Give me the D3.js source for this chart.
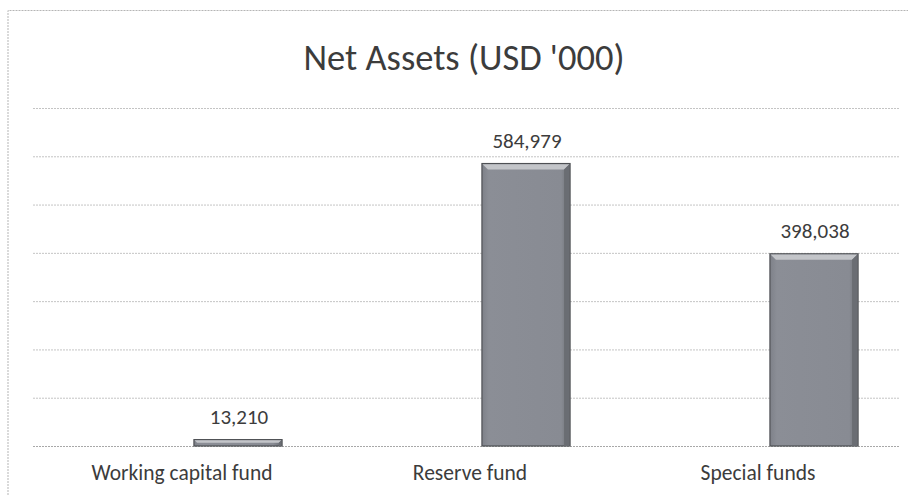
<!DOCTYPE html>
<html>
<head>
<meta charset="utf-8">
<script src="https://cdn.jsdelivr.net/npm/d3@7"></script>
<style>
  html, body { margin: 0; padding: 0; background: #fff; }
  svg { display: block; }
  text { font-family: Carlito, Calibri, Lato, "Open Sans", sans-serif; fill: #3c3c3c; }
</style>
</head>
<body>
<svg id="chart" width="908" height="495"></svg>
<script>
// Net assets by fund, in thousands of US dollars
const categories = ["Working capital fund", "Reserve fund", "Special funds"];
const values = [13210, 584979, 398038];
const valueLabels = ["13,210", "584,979", "398,038"];
const gridTicks = [0, 100000, 200000, 300000, 400000, 500000, 600000, 700000];
const title = "Net Assets (USD '000)";

const svg = d3.select("#chart");

// frame of the chart area
svg.append("path")
  .attr("d", "M8,495 L8,10.5 L908,10.5")
  .attr("fill", "none")
  .attr("stroke", "#b5b5b5")
  .attr("stroke-width", 1)
  .attr("stroke-dasharray", "2,1");

const plot = { left: 33, right: 900, top: 108, bottom: 446 };

const y = d3.scaleLinear().domain([0, 700000]).range([plot.bottom, plot.top]);
const x = d3.scaleBand()
  .domain(categories)
  .range([94, 958])
  .paddingInner(0.694)
  .paddingOuter(0.347);

// horizontal gridlines
const yAxis = d3.axisLeft(y).tickValues(gridTicks).tickSize(-(plot.right - plot.left)).tickFormat("");
const gy = svg.append("g").attr("transform", `translate(${plot.left},0)`).call(yAxis);
gy.select(".domain").remove();
gy.selectAll(".tick line")
  .attr("stroke", "#c4c4c4")
  .attr("stroke-width", 1)
  .attr("stroke-dasharray", "2,1");
gy.selectAll(".tick").filter(d => d === 0).select("line")
  .attr("stroke", "#a8a8a8");

// bar shading
const defs = svg.append("defs");
const grad = defs.append("linearGradient").attr("id", "barFill")
  .attr("x1", "0").attr("x2", "1").attr("y1", "0").attr("y2", "0");
grad.append("stop").attr("offset", "0%").attr("stop-color", "#7e8189");
grad.append("stop").attr("offset", "8%").attr("stop-color", "#8b8e96");
grad.append("stop").attr("offset", "90%").attr("stop-color", "#888b93");
grad.append("stop").attr("offset", "100%").attr("stop-color", "#686b71");

const bars = svg.append("g").selectAll("g").data(categories).join("g");

bars.append("rect")
  .attr("x", d => x(d))
  .attr("y", (d, i) => y(values[i]))
  .attr("width", x.bandwidth())
  .attr("height", (d, i) => y(0) - y(values[i]))
  .attr("fill", "url(#barFill)")
  .attr("stroke", "#4e5054")
  .attr("stroke-width", 1.2);

// bevelled top edge
bars.append("path")
  .attr("d", (d, i) => {
    const x0 = x(d), x1 = x(d) + x.bandwidth(), yt = y(values[i]);
    const b = Math.min(6, (y(0) - yt) / 2);
    return `M${x0 + 0.6},${yt + 0.6} L${x1 - 0.6},${yt + 0.6} L${x1 - b},${yt + b} L${x0 + b},${yt + b} Z`;
  })
  .attr("fill", "#c3c5c9");

// darker right bevel
bars.append("path")
  .attr("d", (d, i) => {
    const x1 = x(d) + x.bandwidth(), yt = y(values[i]), yb = y(0);
    const b = Math.min(6, (yb - yt) / 2);
    return `M${x1 - 0.6},${yt + 0.6} L${x1 - 0.6},${yb} L${x1 - b},${yb} L${x1 - b},${yt + b} Z`;
  })
  .attr("fill", "#6a6d73");

// value labels
bars.append("text")
  .attr("x", d => x(d) + x.bandwidth() / 2 + 1)
  .attr("y", (d, i) => y(values[i]) - 16)
  .attr("text-anchor", "middle")
  .attr("font-size", 21)
  .text((d, i) => valueLabels[i]);

// category labels
svg.append("g").selectAll("text").data(categories).join("text")
  .attr("x", d => x(d) + x.bandwidth() / 2 - 56)
  .attr("y", 480)
  .attr("text-anchor", "middle")
  .attr("font-size", 21.5)
  .text(d => d);

// title
svg.append("text")
  .attr("x", 464)
  .attr("y", 70)
  .attr("text-anchor", "middle")
  .attr("font-size", 36.5)
  .text(title);
</script>
</body>
</html>
